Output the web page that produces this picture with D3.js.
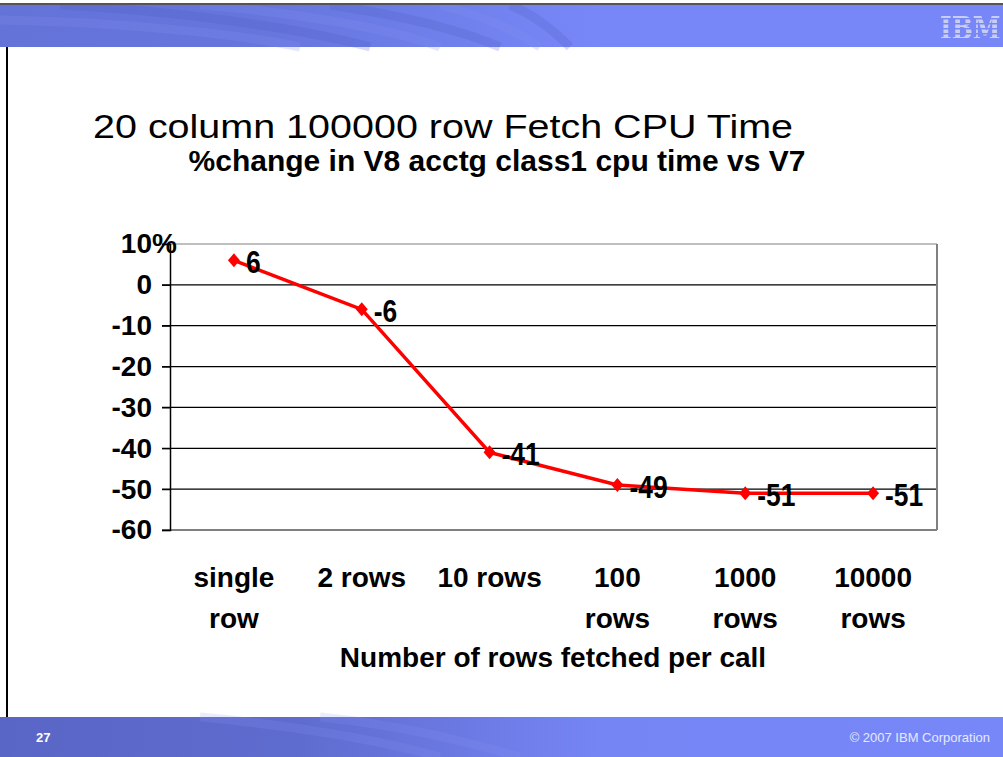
<!DOCTYPE html>
<html><head><meta charset="utf-8">
<script src="https://cdn.jsdelivr.net/npm/d3@7/dist/d3.min.js"></script>
<style>
html,body{margin:0;padding:0;background:#fff;}
svg{display:block;font-family:"Liberation Sans",Arial,sans-serif;}
</style></head>
<body>
<svg id="c" width="1003" height="757"></svg>
<script>
// ---- data ----
const categories = ["single row", "2 rows", "10 rows", "100 rows", "1000 rows", "10000 rows"];
const categoryLines = [["single", "row"], ["2 rows"], ["10 rows"], ["100", "rows"], ["1000", "rows"], ["10000", "rows"]];
const values = [6, -6, -41, -49, -51, -51];
const yTicks = [10, 0, -10, -20, -30, -40, -50, -60];
const yTickLabels = ["10", "0", "-10", "-20", "-30", "-40", "-50", "-60"];
const titleText = "20 column 100000 row Fetch CPU Time";
const subtitleText = "%change in V8 acctg class1 cpu time vs V7";
const xTitleText = "Number of rows fetched per call";
const pageNumber = "27";
const copyrightText = "\u00A9 2007 IBM Corporation";

(function () {
const svg = d3.select("#c");
const W = 1003, H = 757;
const defs = svg.append("defs");

// ---- header / footer bands ----
const hg = defs.append("linearGradient").attr("id", "hg").attr("x1", 0).attr("x2", 1).attr("y1", 0).attr("y2", 0);
hg.append("stop").attr("offset", "0").attr("stop-color", "#6473d8");
hg.append("stop").attr("offset", "0.25").attr("stop-color", "#6675dc");
hg.append("stop").attr("offset", "0.45").attr("stop-color", "#6f80ec");
hg.append("stop").attr("offset", "0.6").attr("stop-color", "#7887f8");
hg.append("stop").attr("offset", "1").attr("stop-color", "#7887f8");
const fg = defs.append("linearGradient").attr("id", "fg").attr("x1", 0).attr("x2", 1).attr("y1", 0).attr("y2", 0);
fg.append("stop").attr("offset", "0").attr("stop-color", "#5a66c6");
fg.append("stop").attr("offset", "0.3").attr("stop-color", "#5f6ccf");
fg.append("stop").attr("offset", "0.6").attr("stop-color", "#7585f4");
fg.append("stop").attr("offset", "1").attr("stop-color", "#7887f8");

// stripe mask for the logo
const mask = defs.append("mask").attr("id", "stripes").attr("maskUnits", "userSpaceOnUse")
  .attr("x", 920).attr("y", 5).attr("width", 83).attr("height", 42);
mask.append("rect").attr("x", 920).attr("y", 5).attr("width", 83).attr("height", 42).attr("fill", "#fff");
for (let yy = 13; yy < 42; yy += 5) {
  mask.append("rect").attr("x", 920).attr("y", yy).attr("width", 83).attr("height", 1.5).attr("fill", "#000");
}

svg.append("rect").attr("x", 0).attr("y", 0).attr("width", W).attr("height", 47).attr("fill", "url(#hg)");
const streaks = [
  "M0,20 C120,22 240,34 300,47", "M60,5 C170,10 300,28 370,47",
  "M200,5 C290,12 390,28 440,47", "M330,5 C400,15 460,30 500,47",
  "M440,5 C480,15 515,30 540,47", "M510,5 C535,15 555,32 570,47"];
svg.append("g").selectAll("path").data(streaks).join("path")
  .attr("d", d => d).attr("fill", "none")
  .attr("stroke", (d, i) => i % 2 ? "#4f5cbf" : "#8593f2")
  .attr("stroke-opacity", 0.22).attr("stroke-width", 9);
svg.append("rect").attr("x", 0).attr("y", 717).attr("width", W).attr("height", 40).attr("fill", "url(#fg)");
const fstreaks = ["M200,717 C290,725 380,740 440,757", "M320,717 C400,725 460,740 520,757"];
svg.append("g").selectAll("path").data(fstreaks).join("path")
  .attr("d", d => d).attr("fill", "none").attr("stroke", "#8a98f5")
  .attr("stroke-opacity", 0.18).attr("stroke-width", 9);
svg.append("rect").attr("x", 0).attr("y", 0).attr("width", W).attr("height", 3).attr("fill", "#fff");
svg.append("line").attr("x1", 0).attr("x2", W).attr("y1", 4).attr("y2", 4).attr("stroke", "#555").attr("stroke-width", 2);

// IBM logo
svg.append("g").attr("mask", "url(#stripes)")
  .append("text").attr("transform", "translate(940,39) scale(1,1.3)").attr("font-family", "DejaVu Serif")
  .attr("font-weight", "bold").attr("font-size", 25).attr("fill", "#c9cdf2").text("IBM");

// left border line
svg.append("line").attr("x1", 7).attr("x2", 7).attr("y1", 47).attr("y2", 717).attr("stroke", "#000").attr("stroke-width", 2);

// footer texts
svg.append("text").attr("x", 36).attr("y", 742).attr("font-size", 13).attr("font-weight", "bold")
  .attr("fill", "#fff").text(pageNumber);
svg.append("text").attr("x", 990).attr("y", 742).attr("text-anchor", "end").attr("font-size", 13)
  .attr("fill", "#e6e9ff").text(copyrightText);

// ---- titles ----
svg.append("text").attr("x", 93).attr("y", 138).attr("font-size", 34).attr("fill", "#000")
  .attr("textLength", 700).attr("lengthAdjust", "spacingAndGlyphs").text(titleText);
svg.append("text").attr("x", 497).attr("y", 171).attr("text-anchor", "middle").attr("font-size", 30)
  .attr("font-weight", "bold").attr("fill", "#000").text(subtitleText);

// ---- chart ----
const pL = 170, pR = 937, pT = 244, pB = 530;
const y = d3.scaleLinear().domain([-60, 10]).range([pB, pT]);
const x = d3.scalePoint().domain(categories).range([pL, pR]).padding(0.5);

const grid = svg.append("g");
grid.selectAll("line").data(yTicks).join("line")
  .attr("x1", pL - 8).attr("x2", pR)
  .attr("y1", d => y(d)).attr("y2", d => y(d))
  .attr("stroke", d => (d === 10 || d === -60) ? "#808080" : "#000")
  .attr("stroke-width", d => d === -60 ? 2 : 1.2);
svg.append("line").attr("x1", pR).attr("x2", pR).attr("y1", pT).attr("y2", pB)
  .attr("stroke", "#808080").attr("stroke-width", 2);
const yAxis = d3.axisLeft(y).tickValues(yTicks).tickSize(8).tickFormat((d, i) => yTickLabels[i]);
const ya = svg.append("g").attr("transform", `translate(${pL},0)`).call(yAxis);
ya.select(".domain").attr("stroke", "#000").attr("stroke-width", 1.5);
ya.selectAll(".tick line").attr("stroke", "#000").attr("stroke-width", 1.2);
ya.selectAll(".tick text").attr("x", -18).attr("font-size", 28).attr("font-weight", "bold")
  .attr("font-family", "Liberation Sans, Arial, sans-serif").attr("fill", "#000");
ya.selectAll(".tick").filter(d => d === 10).append("text")
  .attr("x", -18).attr("dy", "0.32em").attr("font-size", 28).attr("font-weight", "bold")
  .attr("font-family", "Liberation Sans, Arial, sans-serif").attr("fill", "#000")
  .attr("text-anchor", "start").text("%");

const xl = svg.append("g");
categories.forEach((c, i) => {
  const t = xl.append("text").attr("x", x(c)).attr("y", 587).attr("text-anchor", "middle")
    .attr("font-size", 28).attr("font-weight", "bold").attr("fill", "#000");
  categoryLines[i].forEach((ln, j) => {
    t.append("tspan").attr("x", x(c)).attr("dy", j === 0 ? 0 : 41).text(ln);
  });
});
svg.append("text").attr("x", 553).attr("y", 667).attr("text-anchor", "middle")
  .attr("font-size", 28).attr("font-weight", "bold").attr("fill", "#000").text(xTitleText);

const pts = categories.map((c, i) => ({c, v: values[i]}));
svg.append("path").datum(pts)
  .attr("d", d3.line().x(d => x(d.c)).y(d => y(d.v)))
  .attr("fill", "none").attr("stroke", "#ff0000").attr("stroke-width", 3.5);
svg.append("g").selectAll("path").data(pts).join("path")
  .attr("transform", d => `translate(${x(d.c)},${y(d.v)})`)
  .attr("d", "M0,-7L6,0L0,7L-6,0Z").attr("fill", "#ff0000");
svg.append("g").selectAll("text").data(pts).join("text")
  .attr("transform", d => `translate(${x(d.c) + 12},${y(d.v) + 2}) scale(0.88,1.05)`)
  .attr("dy", "0.35em").attr("font-size", 30).attr("font-weight", "bold").attr("fill", "#000")
  .text(d => d.v);
})();
</script>
</body></html>
